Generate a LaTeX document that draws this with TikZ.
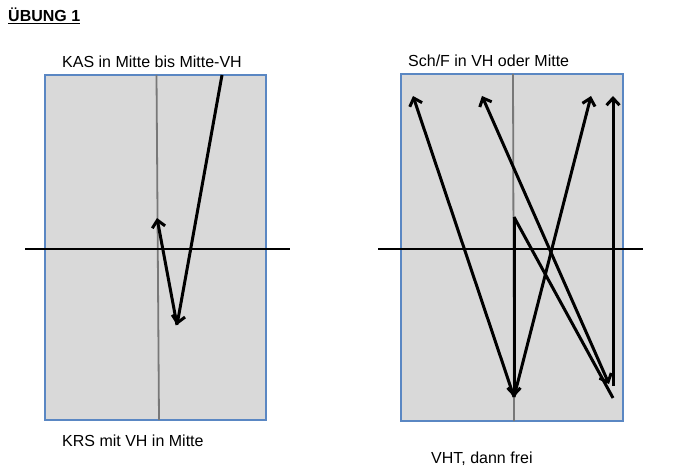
\documentclass[tikz,border=0pt]{standalone}
\usepackage{fontspec}
\setmainfont{Liberation Sans}
\usetikzlibrary{arrows.meta}
\definecolor{feld}{RGB}{217,217,217}
\definecolor{rand}{RGB}{90,135,195}
\definecolor{mitte}{RGB}{120,120,120}
\tikzset{
  spielfeld/.style={fill=feld,draw=rand,line width=1.6pt},
  mittellinie/.style={draw=mitte,line width=1.8pt},
  querlinie/.style={draw=black,line width=1.3pt},
  lauf/.style={line width=3pt,-{Straight Barb[length=7pt,width=13pt]}},
  doppellauf/.style={line width=3pt,{Straight Barb[length=7pt,width=13pt]}-{Straight Barb[length=7pt,width=13pt]}},
  beschriftung/.style={anchor=base west,inner sep=0pt,font=\fontsize{16}{19}\selectfont}
}
\begin{document}
\begin{tikzpicture}[x=1pt,y=-1pt]
\useasboundingbox (0,0) rectangle (685,470);
\node[beschriftung,font=\bfseries\fontsize{16}{19}\selectfont] (titel) at (8,22) {\underline{ÜBUNG 1}};
% linkes Feld
\path[spielfeld] (45,75) rectangle (266,420);
\draw[mittellinie] (156.5,75) -- (159,420);
\draw[querlinie] (25,249) -- (290,249);
\node[beschriftung] (kas) at (62,68) {KAS in Mitte bis Mitte-VH};
\node[beschriftung] (krs) at (62,446) {KRS mit VH in Mitte};
\coordinate (kas-start) at (222,75);
\coordinate (kas-tief) at (177,325);
\coordinate (kas-mitte) at (157,218);
\draw[lauf] (kas-start) -- (kas-tief);
\draw[lauf] (kas-tief) -- (kas-mitte);
% rechtes Feld
\path[spielfeld] (401,74) rectangle (623,421);
\draw[mittellinie] (513,74) -- (514,421);
\draw[querlinie] (378,249) -- (643,249);
\node[beschriftung] (schf) at (408,67) {Sch/F in VH oder Mitte};
\node[beschriftung] (vht) at (431,463) {VHT, dann frei};
\coordinate (vh-links) at (413,96);
\coordinate (vh-mitte) at (482,96);
\coordinate (vh-rechts) at (591,96);
\coordinate (vh-aussen) at (613,96);
\coordinate (start) at (514,217);
\coordinate (grund) at (514,397);
\coordinate (ecke) at (613,386);
\coordinate (ende) at (613,398);
\coordinate (spitze) at (609,384);
\draw[lauf] (start) -- (grund);
\draw[lauf] (grund) -- (vh-links);
\draw[lauf] (grund) -- (vh-rechts);
\draw[lauf,-] (start) -- (ende);
\draw[doppellauf] (vh-mitte) -- (spitze);
\draw[lauf] (ecke) -- (vh-aussen);
\end{tikzpicture}
\end{document}
